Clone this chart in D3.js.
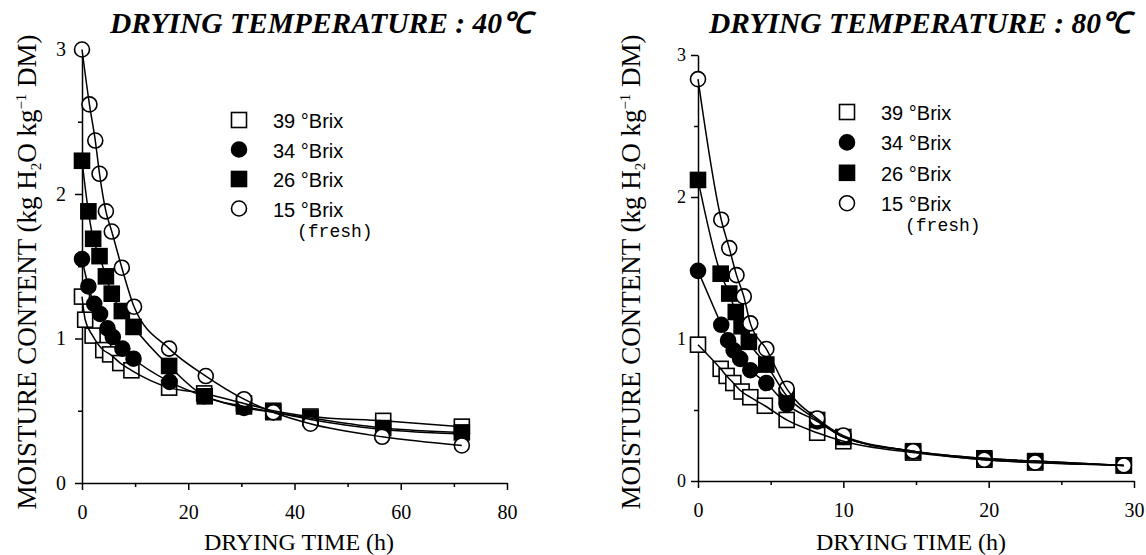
<!DOCTYPE html>
<html>
<head>
<meta charset="utf-8">
<script src="https://cdn.jsdelivr.net/npm/d3@7"></script>
<style>
body { margin: 0; background: #fff; }
svg { display: block; }
</style>
</head>
<body>
<svg id="chart" width="1146" height="555"></svg>
<script>
// legend entries, same order as drawing order
var brixLabels = ["39 °Brix", "34 °Brix", "26 °Brix", "15 °Brix"];
var markerKinds = ["squareOpen", "circleFilled", "squareFilled", "circleOpen"];

// drying at 40 C  (time in h, moisture in kg H2O / kg DM)
var time40_b39 = [0, 0.6, 2, 4, 5.3, 7.2, 9.3, 16.4, 23, 30.5, 36, 43, 56.7, 71.5];
var mc40_b39   = [1.29, 1.13, 1.02, 0.92, 0.89, 0.83, 0.78, 0.66, 0.62, 0.55, 0.50, 0.46, 0.43, 0.39];
var time40_b34 = [0, 1.2, 2.3, 3.4, 4.8, 5.8, 7.6, 9.7, 16.5, 23, 30.5, 36, 43, 56.7, 71.5];
var mc40_b34   = [1.55, 1.36, 1.24, 1.17, 1.07, 1.01, 0.93, 0.86, 0.70, 0.60, 0.52, 0.49, 0.44, 0.37, 0.34];
var time40_b26 = [0, 1.2, 2.1, 3.3, 4.5, 5.6, 7.5, 9.7, 16.4, 23.1, 30.5, 36, 43, 56.7, 71.5];
var mc40_b26   = [2.23, 1.88, 1.69, 1.57, 1.43, 1.31, 1.19, 1.08, 0.81, 0.60, 0.53, 0.49, 0.45, 0.38, 0.35];
var time40_b15 = [0, 1.4, 2.5, 3.3, 4.5, 5.6, 7.5, 9.8, 16.4, 23.3, 30.5, 36, 43, 56.5, 71.5];
var mc40_b15   = [3.0, 2.62, 2.37, 2.14, 1.88, 1.74, 1.49, 1.22, 0.93, 0.74, 0.58, 0.49, 0.41, 0.32, 0.26];

// drying at 80 C
var time80_b39 = [0, 1.56, 1.97, 2.43, 3, 3.6, 4.6, 6.1, 8.2, 10, 14.8, 19.7, 23.2, 29.3];
var mc80_b39   = [0.96, 0.79, 0.74, 0.69, 0.63, 0.59, 0.53, 0.43, 0.34, 0.28, 0.20, 0.15, 0.13, 0.11];
var time80_b34 = [0, 1.6, 2.07, 2.45, 2.9, 3.6, 4.7, 6.1, 8.2, 10, 14.8, 19.7, 23.2, 29.3];
var mc80_b34   = [1.48, 1.10, 0.99, 0.92, 0.86, 0.78, 0.69, 0.54, 0.42, 0.31, 0.21, 0.16, 0.14, 0.11];
var time80_b26 = [0, 1.56, 2.15, 2.6, 3, 3.5, 4.7, 6.1, 8.2, 10, 14.8, 19.7, 23.2, 29.3];
var mc80_b26   = [2.12, 1.46, 1.32, 1.19, 1.09, 0.98, 0.82, 0.60, 0.43, 0.31, 0.21, 0.16, 0.14, 0.11];
var time80_b15 = [0, 1.6, 2.15, 2.65, 3.15, 3.6, 4.7, 6.1, 8.2, 10, 14.8, 19.7, 23.2, 29.3];
var mc80_b15   = [2.83, 1.84, 1.64, 1.45, 1.30, 1.11, 0.93, 0.65, 0.44, 0.32, 0.21, 0.15, 0.13, 0.11];

// ticks
var xMajor40 = [0, 20, 40, 60, 80], xMinor40 = [10, 30, 50, 70];
var xMajor80 = [0, 10, 20, 30], xMinor80 = [5, 15, 25];
var yMajor = [0, 1, 2, 3], yMinor = [0.5, 1.5, 2.5];

var serif = "'Liberation Serif', 'Times New Roman', serif";
var sans = "'Liberation Sans', Arial, sans-serif";
var mono = "'Liberation Mono', 'Courier New', monospace";

var svg = d3.select("#chart");

function zip(t, m) {
	return t.map((d, i) => ({t: d, m: m[i]}));
}

function drawMarker(g, kind, cx, cy, s) {
	if (kind.indexOf("square") == 0) {
		g.append("rect")
			.attr("x", cx - s / 2).attr("y", cy - s / 2)
			.attr("width", s).attr("height", s)
			.attr("fill", kind == "squareFilled" ? "#000" : "#fff")
			.attr("stroke", "#000").attr("stroke-width", 1.6);
	} else {
		g.append("circle")
			.attr("cx", cx).attr("cy", cy).attr("r", s / 2)
			.attr("fill", kind == "circleFilled" ? "#000" : "#fff")
			.attr("stroke", "#000").attr("stroke-width", 1.6);
	}
}

function drawPanel(opt) {
	var x = d3.scaleLinear().domain(opt.xDomain).range(opt.xRange);
	var y = d3.scaleLinear().domain([0, 3]).range(opt.yRange);
	var g = svg.append("g");

	// x axis
	var xa = g.append("g")
		.attr("transform", `translate(0,${y(0)})`)
		.call(d3.axisBottom(x).tickValues(opt.xMajor).tickSize(7).tickSizeOuter(0)
			.tickPadding(opt.xPad).tickFormat(d3.format("d")));
	g.append("g")
		.attr("transform", `translate(0,${y(0)})`)
		.call(d3.axisBottom(x).tickValues(opt.xMinor).tickSize(4).tickFormat(""))
		.select(".domain").remove();

	// y axis
	var ya = g.append("g")
		.attr("transform", `translate(${x(0)},0)`)
		.call(d3.axisLeft(y).tickValues(yMajor).tickSize(7).tickSizeOuter(0)
			.tickPadding(opt.yPad).tickFormat(d3.format("d")));
	g.append("g")
		.attr("transform", `translate(${x(0)},0)`)
		.call(d3.axisLeft(y).tickValues(yMinor).tickSize(4).tickFormat(""))
		.select(".domain").remove();

	g.selectAll(".domain, .tick line").attr("stroke", "#000").attr("stroke-width", 1.5);
	xa.selectAll("text").style("font-family", serif).style("font-size", opt.xFont + "px").attr("fill", "#000");
	ya.selectAll("text").style("font-family", serif).style("font-size", opt.yFont + "px").attr("fill", "#000");

	// markers first, fitted lines drawn over them
	var marks = g.append("g");
	opt.series.forEach((s, i) => {
		s.forEach(d => drawMarker(marks, markerKinds[i], x(d.t), y(d.m), 15));
	});
	var line = d3.line().x(d => x(d.t)).y(d => y(d.m)).curve(d3.curveMonotoneX);
	opt.series.forEach(s => {
		g.append("path")
			.attr("d", line(s))
			.attr("fill", "none")
			.attr("stroke", "#000")
			.attr("stroke-width", 1.5);
	});

	// legend
	var lg = g.append("g");
	brixLabels.forEach((lab, i) => {
		var ly = opt.legendY + i * opt.legendStep;
		drawMarker(lg, markerKinds[i], opt.legendX, ly, 15);
		lg.append("text")
			.attr("x", opt.legendX + 34).attr("y", ly + 8)
			.style("font-family", sans).style("font-size", "20px")
			.text(lab);
	});
	lg.append("text")
		.attr("x", opt.legendX + 58).attr("y", opt.legendY + 3 * opt.legendStep + 28)
		.style("font-family", mono).style("font-size", "18px")
		.text("(fresh)");

	// title
	g.append("text")
		.attr("x", opt.titleX).attr("y", 33)
		.style("font-family", serif).style("font-size", "29.5px")
		.style("font-weight", "bold").style("font-style", "italic")
		.text(opt.title);

	// axis titles
	g.append("text")
		.attr("x", opt.xTitleX).attr("y", 550)
		.attr("text-anchor", "middle")
		.style("font-family", serif).style("font-size", "24px")
		.text("DRYING TIME (h)");

	var yl = g.append("text")
		.attr("transform", `translate(${opt.yTitleX},272) rotate(-90)`)
		.attr("text-anchor", "middle")
		.style("font-family", serif).style("font-size", "27px");
	yl.append("tspan").text("MOISTURE CONTENT (kg H");
	yl.append("tspan").attr("dy", 5).style("font-size", "15px").text("2");
	yl.append("tspan").attr("dy", -5).text("O kg");
	yl.append("tspan").attr("dy", -10).style("font-size", "15px").text("\u22121");
	yl.append("tspan").attr("dy", 10).text(" DM)");
}

drawPanel({
	title: "DRYING TEMPERATURE : 40\u2103",
	titleX: 110,
	xDomain: [0, 80], xRange: [82, 507], yRange: [483, 49.5],
	xMajor: xMajor40, xMinor: xMinor40,
	xPad: 15, yPad: 9, xFont: 20, yFont: 20,
	series: [zip(time40_b39, mc40_b39), zip(time40_b34, mc40_b34), zip(time40_b26, mc40_b26), zip(time40_b15, mc40_b15)],
	legendX: 239, legendY: 120, legendStep: 29.5,
	xTitleX: 299, yTitleX: 36
});

drawPanel({
	title: "DRYING TEMPERATURE : 80\u2103",
	titleX: 709,
	xDomain: [0, 30], xRange: [698, 1134], yRange: [481, 55],
	xMajor: xMajor80, xMinor: xMinor80,
	xPad: 15, yPad: 5, xFont: 20, yFont: 18,
	series: [zip(time80_b39, mc80_b39), zip(time80_b34, mc80_b34), zip(time80_b26, mc80_b26), zip(time80_b15, mc80_b15)],
	legendX: 847, legendY: 112, legendStep: 30.4,
	xTitleX: 911, yTitleX: 640
});
</script>
</body>
</html>
